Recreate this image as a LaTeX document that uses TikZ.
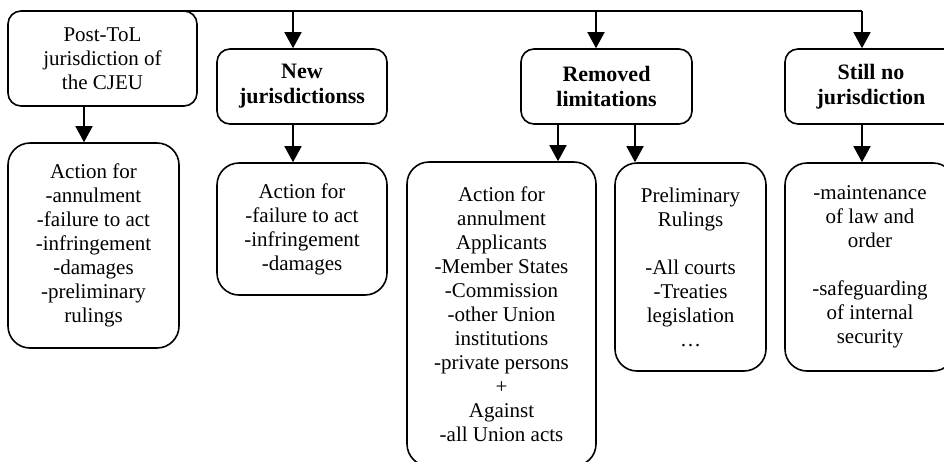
\documentclass[tikz,border=0pt]{standalone}
\usepackage{fontspec}
\setmainfont{Liberation Serif}
\usetikzlibrary{arrows.meta}
\begin{document}
\begin{tikzpicture}[x=1pt,y=-1pt,
  box/.style={draw, line width=1.6pt, rounded corners=13pt, align=center, inner sep=0pt,
    font=\fontsize{21}{24}\selectfont},
  head/.style={box, font=\fontsize{22}{25}\selectfont\bfseries},
  tall/.style={box, rounded corners=22pt},
  arr/.style={line width=1.6pt, -{Triangle[width=17pt,length=16pt]}},
  ln/.style={line width=1.6pt}]
\useasboundingbox (0,0) rectangle (944,461);
\clip (0,0) rectangle (944,461);

% header boxes
\node[box, minimum width=189pt, minimum height=95pt] (post) at (102.5,58.5) {Post-ToL\\jurisdiction of\\the CJEU};
\node[head, minimum width=170pt, minimum height=75pt] (newj) at (302,86.5) {New\\jurisdictionss};
\node[head, minimum width=171pt, minimum height=75pt] (rem) at (606.5,86.5) {Removed\\limitations};
\node[head, minimum width=172pt, minimum height=75pt] (still) at (871,86.5) {Still no\\jurisdiction};

% content boxes
\node[tall, minimum width=171pt, minimum height=205pt] (act1) at (93.5,245.5)
  {Action for\\-annulment\\-failure to act\\-infringement\\-damages\\-preliminary\\rulings};
\node[tall, minimum width=170pt, minimum height=132pt] (act2) at (302,229)
  {Action for\\-failure to act\\-infringement\\-damages};
\node[tall, minimum width=189pt, minimum height=304pt] (act3) at (501.5,314)
  {Action for\\annulment\\Applicants\\-Member States\\-Commission\\-other Union\\institutions\\-private persons\\+\\Against\\-all Union acts};
\node[tall, minimum width=151pt, minimum height=208pt] (prel) at (690.5,267)
  {Preliminary\\Rulings\\[24pt]-All courts\\-Treaties\\legislation\\…};
\node[tall, minimum width=170pt, minimum height=208pt] (sec) at (870,267)
  {-maintenance\\of law and\\order\\[24pt]-safeguarding\\of internal\\security};

% reference x positions
\coordinate (xa) at (84,0);
\coordinate (xb) at (293,0);
\coordinate (xc) at (596,0);
\coordinate (xd) at (558,0);
\coordinate (xe) at (635,0);
\coordinate (xf) at (862,0);
\coordinate (top0) at (180,11);
\coordinate (topb) at (293,11);
\coordinate (topc) at (596,11);
\coordinate (topf) at (862,11);

% top bus line
\draw[ln] (top0) -- (topf);
\draw[arr] (topf) -- (still.north -| xf);
\draw[arr] (topb) -- (newj.north -| xb);
\draw[arr] (topc) -- (rem.north -| xc);

% vertical arrows
\draw[arr] (post.south -| xa) -- (act1.north -| xa);
\draw[arr] (newj.south -| xb) -- (act2.north -| xb);
\draw[arr] (rem.south -| xd) -- (act3.north -| xd);
\draw[arr] (rem.south -| xe) -- (prel.north -| xe);
\draw[arr] (still.south -| xf) -- (sec.north -| xf);
\end{tikzpicture}
\end{document}
